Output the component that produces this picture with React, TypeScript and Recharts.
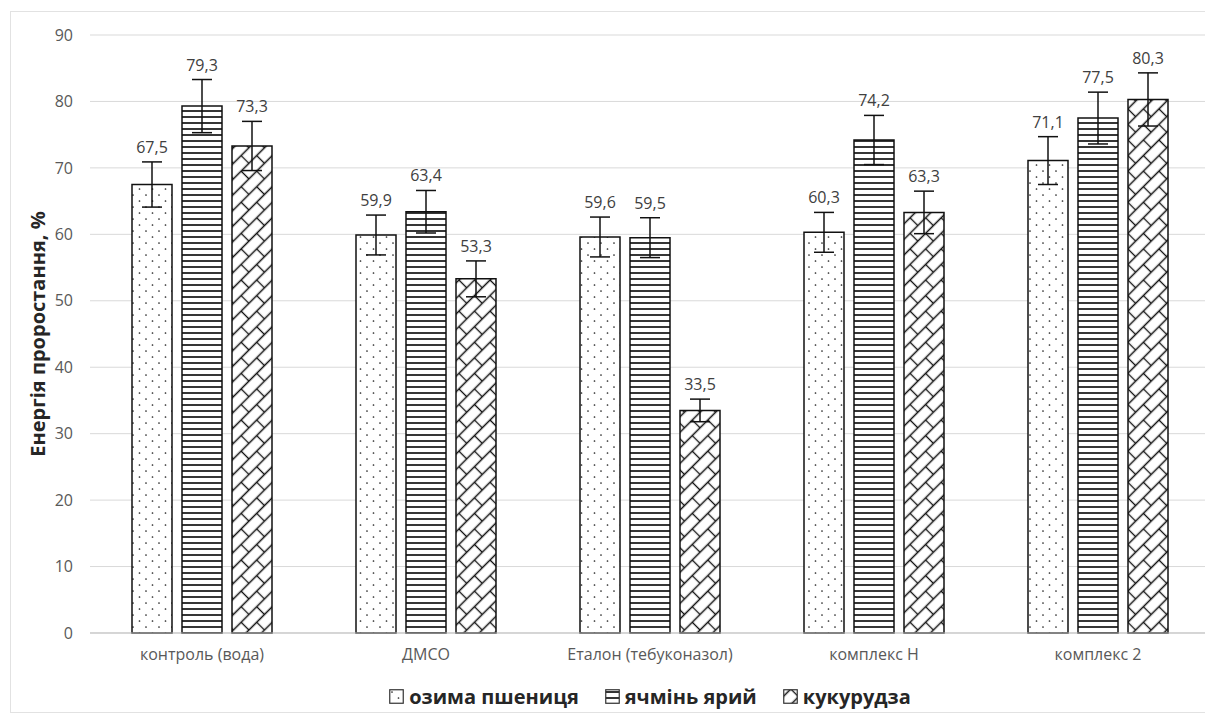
import React from "react";
import { BarChart, Bar, XAxis, YAxis, CartesianGrid, ErrorBar, LabelList } from "recharts";

const categories = ["контроль (вода)", "ДМСО", "Еталон (тебуконазол)", "комплекс Н", "комплекс 2"];
const wheat = [67.5, 59.9, 59.6, 60.3, 71.1];
const barley = [79.3, 63.4, 59.5, 74.2, 77.5];
const corn = [73.3, 53.3, 33.5, 63.3, 80.3];
const wheatErr = [3.4, 3.0, 3.0, 3.0, 3.6];
const barleyErr = [4.0, 3.2, 3.0, 3.7, 3.9];
const cornErr = [3.7, 2.7, 1.7, 3.2, 4.0];
const yTicks = [0, 10, 20, 30, 40, 50, 60, 70, 80, 90];

const seriesNames = ["озима пшениця", "ячмінь ярий", "кукурудза"];
const fills = ["url(#dots)", "url(#hlines)", "url(#brick)"];

const data = categories.map((name, i) => ({
  name,
  wheat: wheat[i],
  barley: barley[i],
  corn: corn[i],
  wheatErr: wheatErr[i],
  barleyErr: barleyErr[i],
  cornErr: cornErr[i],
}));

// label sits just above the error bar cap
const makeLabel = (errs: number[]) => (props: any) => {
  const { x, y, width, height, value, index } = props;
  if (value == null) return null;
  const perUnit = height / value;
  const capY = y - errs[index] * perUnit;
  return (
    <text x={x + width / 2} y={capY - 9} textAnchor="middle" fontSize={16} fill="#404040">
      {Number(value).toFixed(1).replace(".", ",")}
    </text>
  );
};

const YLabel = (props: any) => {
  const { viewBox } = props;
  const cx = viewBox.x + 37;
  const cy = viewBox.y + viewBox.height / 2;
  return (
    <text
      x={cx}
      y={cy}
      transform={`rotate(-90 ${cx} ${cy})`}
      textAnchor="middle"
      dominantBaseline="central"
      fontSize={20}
      fontWeight="bold"
      fill="#262626"
    >
      Енергія проростання, %
    </text>
  );
};

export default function App() {
  return (
    <div
      style={{
        position: "fixed",
        left: 0,
        top: 0,
        width: 1205,
        height: 715,
        overflow: "hidden",
        background: "#fff",
        fontFamily: "'Open Sans', sans-serif",
      }}
    >
      <div
        style={{
          position: "absolute",
          left: 10,
          top: 11,
          width: 1210,
          height: 700,
          border: "1px solid #e2e2e2",
        }}
      />
      <div style={{ position: "absolute", left: 0, top: 0 }}>
        <BarChart
          width={1220}
          height={715}
          data={data}
          margin={{ top: 35, right: 10, bottom: 42, left: 0 }}
          barSize={40}
          barGap={10}
        >
          <defs>
            <pattern id="dots" patternUnits="userSpaceOnUse" width={13} height={12}>
              <rect width={13} height={12} fill="#fff" />
              <circle cx={3} cy={3} r={0.85} fill="#222" />
              <circle cx={9.5} cy={9} r={0.85} fill="#222" />
            </pattern>
            <pattern id="hlines" patternUnits="userSpaceOnUse" width={8} height={6}>
              <rect width={8} height={6} fill="#fff" />
              <path d="M0,3H8" stroke="#111" strokeWidth={1.7} />
            </pattern>
            <pattern
              id="brick"
              patternUnits="userSpaceOnUse"
              width={22}
              height={22}
              patternTransform="rotate(-45)"
            >
              <rect width={22} height={22} fill="#fff" />
              <path d="M0,5.5H22M0,16.5H22M5.5,5.5V16.5M16.5,16.5V22M16.5,0V5.5" stroke="#111" strokeWidth={1.3} fill="none" />
            </pattern>
          </defs>
          <CartesianGrid vertical={false} stroke="#d9d9d9" />
          <XAxis
            dataKey="name"
            interval={0}
            height={40}
            axisLine={{ stroke: "#bfbfbf" }}
            tickLine={false}
            tickMargin={10}
            tick={{ fill: "#595959", fontSize: 16 }}
          />
          <YAxis
            domain={[0, 90]}
            ticks={yTicks}
            width={90}
            axisLine={false}
            tickLine={false}
            tickMargin={11}
            tick={{ fill: "#595959", fontSize: 16 }}
            label={<YLabel />}
          />
          <Bar dataKey="wheat" name={seriesNames[0]} fill={fills[0]} stroke="#111" strokeWidth={1.5} isAnimationActive={false}>
            <ErrorBar dataKey="wheatErr" width={10} stroke="#111" strokeWidth={1.5} direction="y" />
            <LabelList dataKey="wheat" content={makeLabel(wheatErr)} />
          </Bar>
          <Bar dataKey="barley" name={seriesNames[1]} fill={fills[1]} stroke="#111" strokeWidth={1.5} isAnimationActive={false}>
            <ErrorBar dataKey="barleyErr" width={10} stroke="#111" strokeWidth={1.5} direction="y" />
            <LabelList dataKey="barley" content={makeLabel(barleyErr)} />
          </Bar>
          <Bar dataKey="corn" name={seriesNames[2]} fill={fills[2]} stroke="#111" strokeWidth={1.5} isAnimationActive={false}>
            <ErrorBar dataKey="cornErr" width={10} stroke="#111" strokeWidth={1.5} direction="y" />
            <LabelList dataKey="corn" content={makeLabel(cornErr)} />
          </Bar>
        </BarChart>
      </div>
      {/* legend, centred on the plot area */}
      <div
        style={{
          position: "absolute",
          left: 90,
          width: 1120,
          top: 683,
          display: "flex",
          justifyContent: "center",
          alignItems: "center",
          gap: 26,
          fontSize: 20,
          fontWeight: "bold",
          color: "#262626",
        }}
      >
        {seriesNames.map((n, i) => (
          <div key={n} style={{ display: "flex", alignItems: "center", gap: 5 }}>
            <svg width={15} height={15}>
              <rect x={0.75} y={0.75} width={13.5} height={13.5} fill={fills[i]} stroke="#333" strokeWidth={1.2} />
            </svg>
            <span>{n}</span>
          </div>
        ))}
      </div>
    </div>
  );
}
